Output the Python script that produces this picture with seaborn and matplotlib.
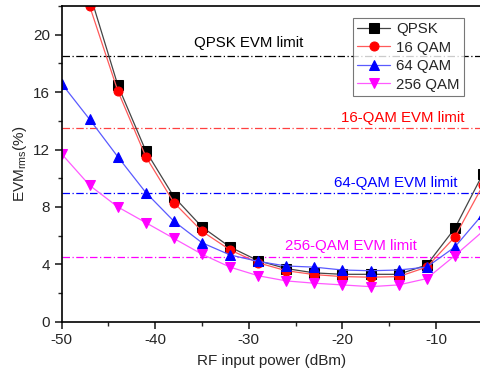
import numpy as np
import pandas as pd
import matplotlib
matplotlib.use("Agg")
import matplotlib.pyplot as plt
import seaborn as sns
from matplotlib.ticker import MultipleLocator

# RF input power sweep (dBm)
power = [-50, -47, -44, -41, -38, -35, -32, -29, -26, -23, -20, -17, -14, -11, -8, -5]

# EVM_rms (%) per modulation format
evm_qpsk = [np.nan, 22.9, 16.5, 11.9, 8.7, 6.6, 5.2, 4.25, 3.7, 3.4, 3.3, 3.3, 3.3, 3.95, 6.5, 10.3]
evm_16qam = [np.nan, 22.0, 16.1, 11.5, 8.3, 6.3, 5.0, 4.1, 3.55, 3.28, 3.14, 3.1, 3.14, 3.8, 5.9, 9.5]
evm_64qam = [16.6, 14.1, 11.5, 9.0, 7.0, 5.5, 4.65, 4.2, 3.88, 3.8, 3.6, 3.55, 3.6, 3.8, 5.2, 7.5]
evm_256qam = [11.7, 9.5, 8.0, 6.9, 5.8, 4.7, 3.8, 3.2, 2.84, 2.68, 2.56, 2.44, 2.56, 3.0, 4.6, 6.3]

formats = ["QPSK", "16 QAM", "64 QAM", "256 QAM"]
limit_labels = ["QPSK EVM limit", "16-QAM EVM limit", "64-QAM EVM limit", "256-QAM EVM limit"]
limit_values = [18.5, 13.5, 9.0, 4.5]

line_colors = ["#444444", "#ff5a5a", "#5a5aff", "#ff5aff"]
marker_colors = ["#000000", "#ff0000", "#0000ff", "#ff00ff"]
text_colors = ["#000000", "#ff0000", "#0000ff", "#ff00ff"]
limit_colors = ["#000000", "#ff4040", "#0000ff", "#ff00ff"]
markers = ["s", "o", "^", "v"]

df = pd.DataFrame({
    "power": power * 4,
    "evm": evm_qpsk + evm_16qam + evm_64qam + evm_256qam,
    "format": sum([[f] * len(power) for f in formats], []),
})

sns.set_style("ticks")
plt.rcParams["font.family"] = ["Liberation Sans", "DejaVu Sans"]
plt.rcParams["mathtext.fontset"] = "custom"
plt.rcParams["mathtext.rm"] = "Liberation Sans"
plt.rcParams["mathtext.it"] = "Liberation Sans"
plt.rcParams["axes.unicode_minus"] = False

fig = plt.figure(figsize=(4.81, 3.82), dpi=100)
ax = fig.add_axes([0.128, 0.158, 0.872, 0.826])

for fmt, lc, mc, mk in zip(formats, line_colors, marker_colors, markers):
    sub = df[df["format"] == fmt].dropna()
    sns.lineplot(data=sub, x="power", y="evm", ax=ax, color=lc, lw=0.9,
                 marker=mk, markersize=6.5, markerfacecolor=mc,
                 markeredgecolor=mc, label=fmt, estimator=None, sort=False)

# threshold lines with their captions
text_x = [-30.0, -13.6, -14.3, -19.1]
text_y = [19.4, 14.2, 9.7, 5.3]
for val, lab, col, tc, tx, ty in zip(limit_values, limit_labels, limit_colors,
                                     text_colors, text_x, text_y):
    ax.axhline(val, color=col, lw=0.9, ls=(0, (6, 2, 1, 2)), zorder=1)
    ax.text(tx, ty, lab, color=tc, fontsize=10.8, ha="center", va="center")

ax.set_xlim(-50, -5.2)
ax.set_ylim(0, 22)
ax.xaxis.set_major_locator(MultipleLocator(10))
ax.xaxis.set_minor_locator(MultipleLocator(5))
ax.yaxis.set_major_locator(MultipleLocator(4))
ax.yaxis.set_minor_locator(MultipleLocator(2))
ax.tick_params(which="major", direction="out", length=5, width=1.2, labelsize=11)
ax.tick_params(which="minor", direction="out", length=3, width=1.0)
for side in ["left", "bottom", "top"]:
    ax.spines[side].set_linewidth(1.2)
    ax.spines[side].set_color("black")
ax.spines["right"].set_visible(False)

ax.set_xlabel("RF input power (dBm)", fontsize=11, labelpad=5)
ax.set_ylabel(r"EVM$_{\mathregular{rms}}$(%)", fontsize=11, labelpad=3)

leg = ax.legend(loc="upper right", bbox_to_anchor=(0.978, 0.987), fontsize=10.8,
                frameon=True, fancybox=False, edgecolor="#555555",
                handlelength=2.2, borderpad=0.3, labelspacing=0.3,
                handletextpad=0.4)
leg.get_frame().set_linewidth(0.8)

fig.savefig("out.png", dpi=100)
